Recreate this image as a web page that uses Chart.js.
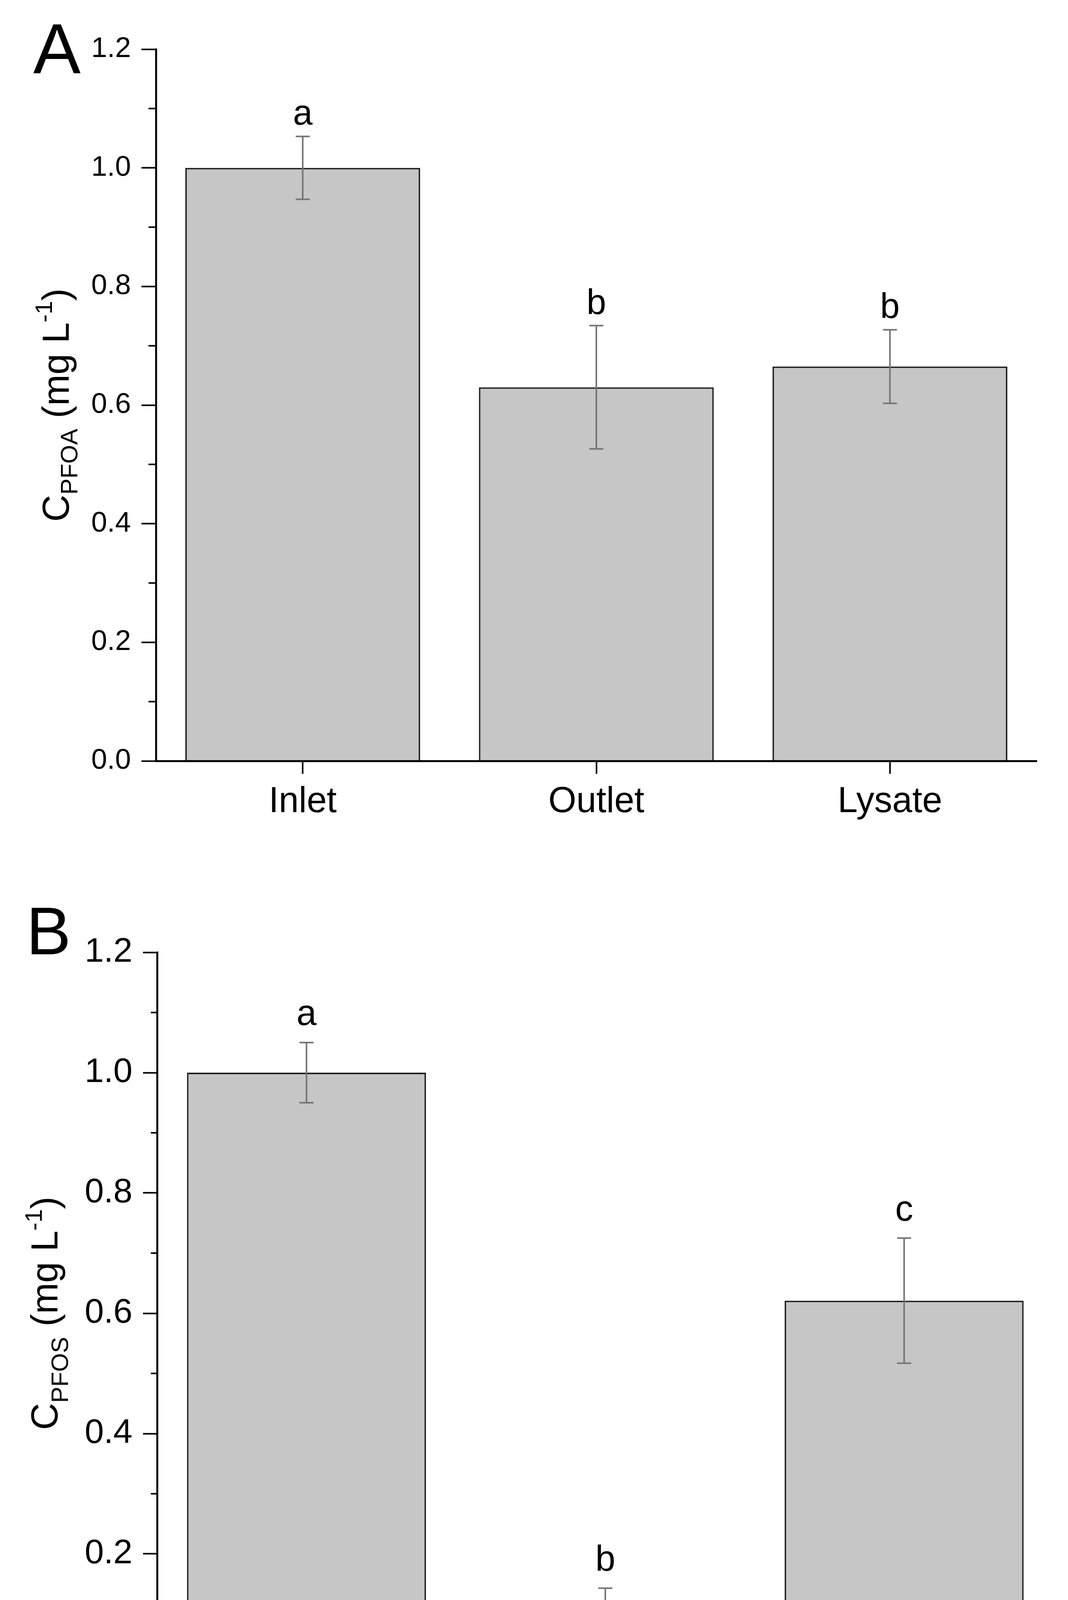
<!DOCTYPE html>
<html>
<head>
<meta charset="utf-8">
<script src="https://cdn.jsdelivr.net/npm/chart.js@4.4.0/dist/chart.umd.min.js"></script>
<style>
  html, body { margin: 0; padding: 0; background: #fff; }
  canvas { display: block; }
</style>
</head>
<body>
<canvas id="chartA" width="2733" height="2200" style="width:2733px;height:2200px"></canvas>
<canvas id="chartB" width="2733" height="2274" style="width:2733px;height:2274px"></canvas>
<script>
// Data
const categories = ['Inlet', 'Outlet', 'Lysate'];

const pfoaMeans = [1.0, 0.63, 0.665];
const pfoaErrors = [0.053, 0.104, 0.062];
const pfoaLetters = ['a', 'b', 'b'];

const pfosMeans = [1.0, 0.118, 0.621];
const pfosErrors = [0.05, 0.025, 0.104];
const pfosLetters = ['a', 'b', 'c'];

const yTicks = [0, 0.2, 0.4, 0.6, 0.8, 1.0, 1.2];
const yMinorTicks = [0.1, 0.3, 0.5, 0.7, 0.9, 1.1];

const pfoaTitle = [['C', 'main'], ['PFOA', 'sub'], [' (mg L', 'main'], ['-1', 'sup'], [')', 'main']];
const pfosTitle = [['C', 'main'], ['PFOS', 'sub'], [' (mg L', 'main'], ['-1', 'sup'], [')', 'main']];

const FONT = '"Liberation Sans", Arial, sans-serif';

// error bars + significance letters
const errorBarPlugin = {
    id: 'errorBars',
    afterDatasetsDraw(chart, args, opts) {
        const { ctx } = chart;
        const y = chart.scales.y;
        const meta = chart.getDatasetMeta(0);
        ctx.save();
        ctx.strokeStyle = opts.color;
        ctx.lineWidth = opts.width;
        meta.data.forEach((bar, i) => {
            const m = opts.means[i], e = opts.errors[i];
            const yTop = y.getPixelForValue(m + e);
            const yBot = y.getPixelForValue(m - e);
            ctx.beginPath();
            ctx.moveTo(bar.x, yTop); ctx.lineTo(bar.x, yBot);
            ctx.moveTo(bar.x - opts.cap, yTop); ctx.lineTo(bar.x + opts.cap, yTop);
            ctx.moveTo(bar.x - opts.cap, yBot); ctx.lineTo(bar.x + opts.cap, yBot);
            ctx.stroke();
            ctx.fillStyle = '#000';
            ctx.font = opts.letterSize + 'px ' + FONT;
            ctx.textAlign = 'center';
            ctx.textBaseline = 'alphabetic';
            ctx.fillText(opts.letters[i], bar.x, yTop - opts.letterGap);
        });
        ctx.restore();
    }
};

// minor ticks, rotated axis title with sub/superscript, panel letter
const decorPlugin = {
    id: 'decor',
    afterDraw(chart, args, opts) {
        const { ctx, chartArea } = chart;
        const y = chart.scales.y;
        ctx.save();
        ctx.strokeStyle = '#000';
        ctx.lineWidth = opts.tickWidth;
        yMinorTicks.forEach(v => {
            const py = y.getPixelForValue(v);
            ctx.beginPath();
            ctx.moveTo(chartArea.left - opts.minorLength, py);
            ctx.lineTo(chartArea.left, py);
            ctx.stroke();
        });

        // axis title
        const sizes = { main: opts.titleSize, sub: opts.subSize, sup: opts.subSize };
        const shifts = { main: 0, sub: opts.subShift, sup: -opts.supShift };
        let total = 0;
        opts.title.forEach(([t, k]) => {
            ctx.font = sizes[k] + 'px ' + FONT;
            total += ctx.measureText(t).width;
        });
        const cy = (chartArea.top + chartArea.bottom) / 2;
        ctx.translate(chartArea.left - opts.titleOffset, cy);
        ctx.rotate(-Math.PI / 2);
        ctx.fillStyle = '#000';
        ctx.textBaseline = 'alphabetic';
        ctx.textAlign = 'left';
        let x = -total / 2;
        opts.title.forEach(([t, k]) => {
            ctx.font = sizes[k] + 'px ' + FONT;
            ctx.fillText(t, x, shifts[k]);
            x += ctx.measureText(t).width;
        });
        ctx.setTransform(1, 0, 0, 1, 0, 0);

        ctx.font = opts.panelSize + 'px ' + FONT;
        ctx.textAlign = 'left';
        ctx.fillText(opts.panel, opts.panelX, opts.panelY);
        ctx.restore();
    }
};

function makeChart(canvasId, means, errors, letters, cfg) {
    const ctx = document.getElementById(canvasId).getContext('2d');
    return new Chart(ctx, {
        type: 'bar',
        data: {
            labels: categories,
            datasets: [{
                data: means,
                backgroundColor: '#c6c6c6',
                borderColor: '#222',
                borderWidth: 4,
                borderSkipped: 'bottom',
                categoryPercentage: 0.8,
                barPercentage: 1.0
            }]
        },
        options: {
            responsive: false,
            animation: false,
            devicePixelRatio: 1,
            layout: { padding: cfg.padding },
            plugins: {
                legend: { display: false },
                tooltip: { enabled: false },
                errorBars: {
                    means, errors, letters,
                    color: '#747474', width: 4, cap: 18,
                    letterSize: cfg.letterSize, letterGap: cfg.letterGap
                },
                decor: {
                    tickWidth: 4, minorLength: cfg.minorLength,
                    title: cfg.title, titleSize: 96, subSize: 62,
                    subShift: cfg.subShift, supShift: cfg.supShift,
                    titleOffset: cfg.titleOffset,
                    panel: cfg.panel, panelSize: cfg.panelSize,
                    panelX: cfg.panelX, panelY: cfg.panelY
                }
            },
            scales: {
                x: {
                    offset: true,
                    grid: {
                        offset: false, drawOnChartArea: false, drawTicks: true,
                        tickLength: 33, tickColor: '#000', tickWidth: 4
                    },
                    border: { display: true, color: '#000', width: 5, z: 1 },
                    ticks: {
                        color: '#000', padding: 17,
                        font: { family: FONT, size: cfg.catSize }
                    },
                    afterFit: s => { s.height = 150; }
                },
                y: {
                    min: 0,
                    max: 1.2,
                    afterBuildTicks: s => { s.ticks = yTicks.map(v => ({ value: v })); },
                    grid: {
                        drawOnChartArea: false, drawTicks: true,
                        tickLength: cfg.tickLength, tickColor: '#000', tickWidth: 4
                    },
                    border: { display: true, color: '#000', width: 5, z: 1 },
                    ticks: {
                        color: '#000', padding: 27,
                        font: { family: FONT, size: cfg.tickSize },
                        callback: v => Number(v).toFixed(1)
                    },
                    afterFit: s => { s.width = 300; }
                }
            }
        },
        plugins: [errorBarPlugin, decorPlugin]
    });
}

makeChart('chartA', pfoaMeans, pfoaErrors, pfoaLetters, {
    padding: { left: 99, right: 80, top: 126, bottom: 102 },
    tickSize: 73, catSize: 92, tickLength: 37, minorLength: 19,
    letterSize: 90, letterGap: 30,
    title: pfoaTitle, titleOffset: 223, subShift: 22, supShift: 43,
    panel: 'A', panelSize: 182, panelX: 85, panelY: 188
});

makeChart('chartB', pfosMeans, pfosErrors, pfosLetters, {
    padding: { left: 102, right: 37, top: 238, bottom: 38 },
    tickSize: 88, catSize: 94, tickLength: 36, minorLength: 16,
    letterSize: 92, letterGap: 45,
    title: pfosTitle, titleOffset: 255, subShift: 27, supShift: 40,
    panel: 'B', panelSize: 172, panelX: 67, panelY: 243
});
</script>
</body>
</html>
